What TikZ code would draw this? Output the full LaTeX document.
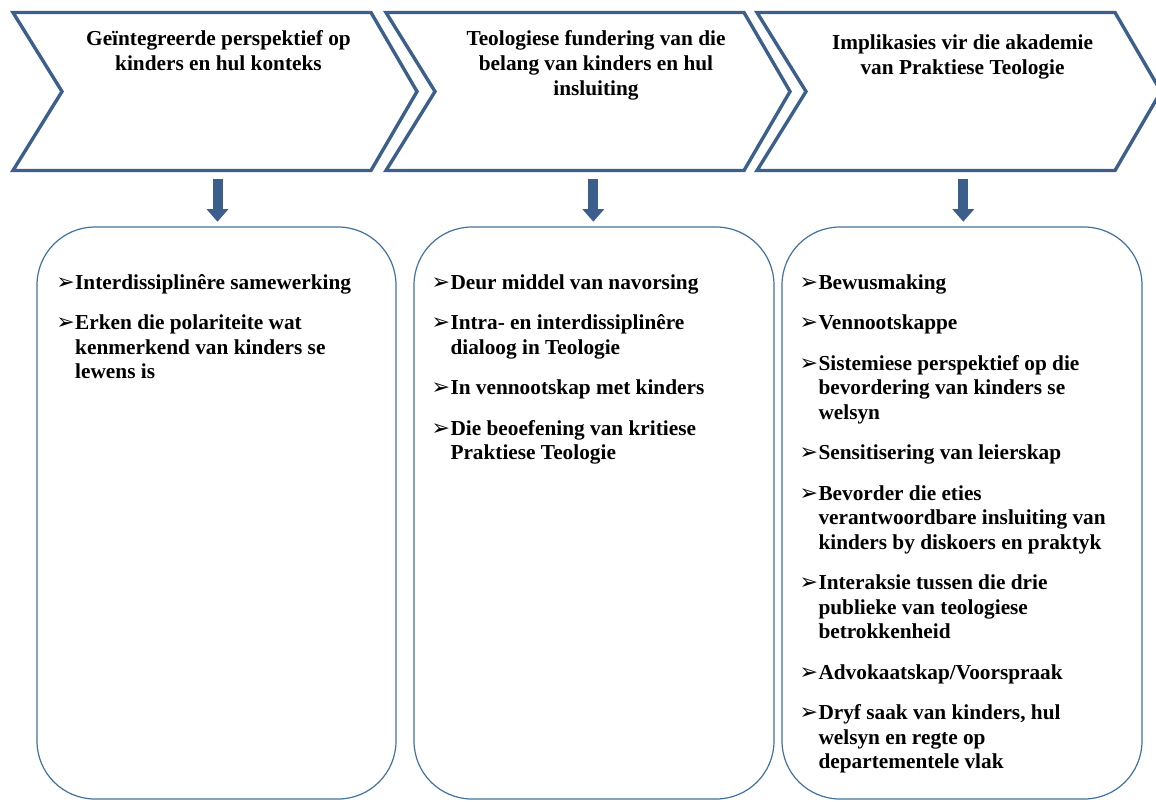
\documentclass[tikz,border=0pt]{standalone}
\usepackage{fontspec}
\setmainfont{Liberation Serif}
\newfontfamily\dejavu{DejaVu Sans}
\usetikzlibrary{arrows.meta}
\definecolor{chevblue}{RGB}{60,95,140}
\definecolor{boxblue}{RGB}{65,113,156}
\definecolor{arrblue}{RGB}{59,94,140}
\newcommand{\bul}{\makebox[18.8pt][l]{\dejavu\fontsize{22}{22}\selectfont ➢}}
\newcommand{\itm}{\noindent\hangindent=18.8pt\hangafter=1\relax\bul}
\newcommand{\itemlist}[1]{\begin{minipage}[t]{345pt}\fontsize{21.3}{24.3}\selectfont\bfseries\setlength{\parskip}{16.4pt}\setlength{\parindent}{0pt}#1\end{minipage}}
\tikzset{
  chev/.style={draw=chevblue, line width=3.4pt, line join=miter},
  listbox/.style={draw=boxblue, line width=1.2pt, rounded corners=58pt},
  title/.style={inner sep=0pt, anchor=base, font=\fontsize{21.3}{25}\selectfont\bfseries},
  listtext/.style={inner sep=0pt, anchor=base west},
  downarrow/.style={draw=arrblue, line width=10pt, -{Triangle[width=21pt,length=12.5pt]}}
}
\begin{document}
\begin{tikzpicture}[x=1pt,y=-1pt]
\useasboundingbox (0,0) rectangle (1156,801);
% chevrons
\foreach \xo in {13,386,757}{
  \draw[chev] (\xo,12.5) -- ++(358,0) -- ++(46,79) -- ++(-46,79) -- ++(-358,0) -- ++(49,-79) -- cycle;
}
% titles
\node[title] (t1) at (218.5,45.5) {\begin{tabular}[t]{@{}c@{}}Geïntegreerde perspektief op\\kinders en hul konteks\end{tabular}};
\node[title] (t2) at (596,45) {\begin{tabular}[t]{@{}c@{}}Teologiese fundering van die\\belang van kinders en hul\\insluiting\end{tabular}};
\node[title] (t3) at (962.5,49) {\begin{tabular}[t]{@{}c@{}}Implikasies vir die akademie\\van Praktiese Teologie\end{tabular}};
% arrows
\coordinate (a1s) at (217.5,179);
\coordinate (a1e) at (217.5,221.7);
\coordinate (a2s) at (593.3,179);
\coordinate (a2e) at (593.3,221.7);
\coordinate (a3s) at (963.3,179);
\coordinate (a3e) at (963.3,221.7);
\draw[downarrow] (a1s) -- (a1e);
\draw[downarrow] (a2s) -- (a2e);
\draw[downarrow] (a3s) -- (a3e);
% boxes
\draw[listbox] (37,227) rectangle (396,799);
\draw[listbox] (414,227) rectangle (774,799);
\draw[listbox] (782,227) rectangle (1142,799);
% lists
\node[listtext] (l1) at (56.2,289) {\itemlist{%
\itm Interdissiplinêre samewerking\par
\itm Erken die polariteite wat\\kenmerkend van kinders se\\lewens is\par}};
\node[listtext] (l2) at (431.5,289) {\itemlist{%
\itm Deur middel van navorsing\par
\itm Intra- en interdissiplinêre\\dialoog in Teologie\par
\itm In vennootskap met kinders\par
\itm Die beoefening van kritiese\\Praktiese Teologie\par}};
\node[listtext] (l3) at (799.5,289) {\itemlist{%
\itm Bewusmaking\par
\itm Vennootskappe\par
\itm Sistemiese perspektief op die\\bevordering van kinders se\\welsyn\par
\itm Sensitisering van leierskap\par
\itm Bevorder die eties\\verantwoordbare insluiting van\\kinders by diskoers en praktyk\par
\itm Interaksie tussen die drie\\publieke van teologiese\\betrokkenheid\par
\itm Advokaatskap/Voorspraak\par
\itm Dryf saak van kinders, hul\\welsyn en regte op\\departementele vlak\par}};
\end{tikzpicture}
\end{document}
